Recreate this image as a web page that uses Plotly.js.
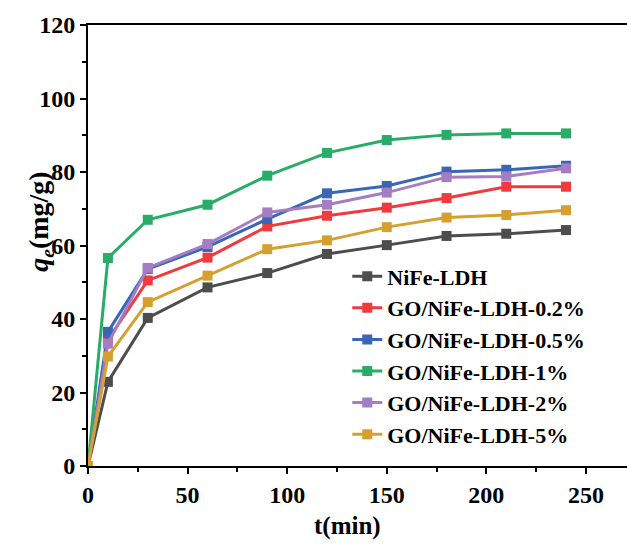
<!DOCTYPE html>
<html>
<head>
<meta charset="utf-8">
<script src="https://cdn.plot.ly/plotly-3.0.1.min.js"></script>
<style>html,body{margin:0;padding:0;background:#fff;}#chart{width:627px;height:549px;}</style>
</head>
<body>
<div id="chart"></div>
<script>
const time = [0, 10, 30, 60, 90, 120, 150, 180, 210, 240];
const seriesNames = ["NiFe-LDH", "GO/NiFe-LDH-0.2%", "GO/NiFe-LDH-0.5%", "GO/NiFe-LDH-1%", "GO/NiFe-LDH-2%", "GO/NiFe-LDH-5%"];
const nife      = [0, 22.9, 40.3, 48.6, 52.5, 57.7, 60.1, 62.6, 63.2, 64.2];
const go02      = [0, 34.4, 50.5, 56.7, 65.2, 68.1, 70.3, 72.9, 76.0, 76.0];
const go05      = [0, 36.5, 53.6, 59.6, 67.2, 74.2, 76.2, 80.1, 80.6, 81.7];
const go1       = [0, 56.6, 67.0, 71.1, 79.0, 85.2, 88.7, 90.1, 90.5, 90.5];
const go2       = [0, 33.3, 53.9, 60.4, 69.0, 71.1, 74.4, 78.6, 78.8, 81.0];
const go5       = [0, 29.8, 44.6, 51.8, 59.0, 61.4, 65.0, 67.6, 68.3, 69.6];
const seriesValues = [nife, go02, go05, go1, go2, go5];
const colors = ["#4d4d4d", "#f03a3e", "#3a66b8", "#27ad66", "#a57dc3", "#d6a02e"];
const xTickVals = [0, 50, 100, 150, 200, 250];
const yTickVals = [0, 20, 40, 60, 80, 100, 120];

const FONT = "Liberation Serif";

const traces = seriesValues.map((vals, i) => ({
  x: time, y: vals, name: seriesNames[i], type: "scatter", mode: "lines+markers",
  line: {color: colors[i], width: 3},
  marker: {symbol: "square", size: 10, color: colors[i]}
}));

const axisCommon = {
  showline: true, linecolor: "#000", linewidth: 2,
  ticks: "outside", ticklen: 6, tickwidth: 2, tickcolor: "#000",
  showgrid: false, zeroline: false,
  tickfont: {family: FONT, size: 24, color: "#000", weight: "bold"},
  minor: {ticks: "outside", ticklen: 4, tickwidth: 2, tickcolor: "#000", showgrid: false}
};

const layout = {
  width: 627, height: 549,
  margin: {l: 88, r: 0, t: 25, b: 82.5},
  paper_bgcolor: "#fff", plot_bgcolor: "#fff",
  font: {family: FONT, color: "#000"},
  showlegend: true,
  legend: {x: 0.481, y: 0.4775, xanchor: "left", yanchor: "top", bgcolor: "rgba(0,0,0,0)",
           font: {family: FONT, size: 22, color: "#000", weight: "bold"}, tracegroupgap: 0},
  xaxis: Object.assign({}, axisCommon, {range: [0, 270.6], tickvals: xTickVals, mirror: false,
           minor: Object.assign({}, axisCommon.minor, {dtick: 25, tick0: 0})}),
  xaxis2: {overlaying: "x", side: "top", showline: true, linecolor: "#000", linewidth: 2,
           showticklabels: false, ticks: "", range: [0, 270.6], showgrid: false, zeroline: false},
  yaxis: Object.assign({}, axisCommon, {range: [0, 120], tickvals: yTickVals,
           minor: Object.assign({}, axisCommon.minor, {dtick: 10, tick0: 0})}),
  annotations: [
    {xref: "paper", yref: "paper", x: 0.482, y: -0.137, xanchor: "center", yanchor: "middle",
     text: "t(min)", showarrow: false, font: {family: FONT, size: 25, color: "#000", weight: "bold"}},
    {xref: "paper", yref: "paper", x: -0.087, y: 0.554, xanchor: "center", yanchor: "middle", textangle: -90,
     text: "<i>q</i><sub><i>e</i></sub>(mg/g)", showarrow: false, font: {family: FONT, size: 28, color: "#000", weight: "bold"}}
  ]
};

traces.push({x: [0], y: [0], xaxis: "x2", mode: "markers", marker: {opacity: 0}, showlegend: false, hoverinfo: "skip"});

Plotly.newPlot("chart", traces, layout, {displayModeBar: false, staticPlot: true});
</script>
</body>
</html>
